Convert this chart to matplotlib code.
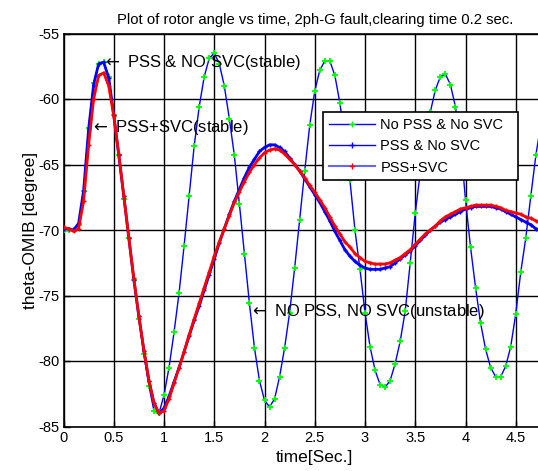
import numpy as np
import matplotlib
matplotlib.use("Agg")
import matplotlib.pyplot as plt
from matplotlib.lines import Line2D

plt.rcParams['font.family'] = ['Liberation Sans', 'DejaVu Sans']
plt.rcParams['axes.unicode_minus'] = False

# time axis (s)
time = [round(0.05 * i, 2) for i in range(96)]

# No PSS & No SVC (unstable)
no_pss_no_svc = [
    -70.0, -70.0, -70.0, -69.6, -67.0, -62.2, -58.8, -57.3, -57.2, -58.3,
    -61.2, -64.3, -67.6, -70.6, -73.8, -76.8, -79.5, -81.9, -83.8, -84.0,
    -82.6, -80.5, -77.8, -74.8, -71.2, -67.4, -63.6, -60.6, -58.3, -56.9,
    -56.5, -57.3, -59.0, -61.5, -64.3, -68.0, -71.8, -75.6, -79.0, -81.5,
    -83.0, -83.5, -82.9, -81.2, -79.0, -76.3, -72.9, -69.2, -65.5, -62.0,
    -59.4, -57.8, -57.1, -57.1, -58.2, -60.3, -63.1, -66.2, -70.0, -73.0,
    -76.3, -78.9, -80.7, -81.8, -82.0, -81.5, -80.2, -78.5, -76.2, -72.5,
    -68.7, -65.6, -63.3, -61.0, -59.3, -58.3, -58.1, -58.9, -60.6, -63.3,
    -67.7, -71.3, -74.4, -77.1, -79.1, -80.5, -81.2, -81.2, -80.4, -78.9,
    -76.4, -73.2, -70.6, -67.4, -64.3, -61.9,
]

# PSS & No SVC
pss_no_svc = [
    -69.9, -69.9, -70.0, -69.5, -67.0, -62.3, -58.9, -57.3, -57.2, -58.4,
    -61.2, -64.3, -67.4, -70.6, -73.8, -76.6, -79.2, -81.5, -83.2, -84.0,
    -83.6, -82.7, -81.6, -80.5, -79.3, -78.1, -76.9, -75.8, -74.6, -73.4,
    -72.2, -71.0, -69.9, -68.8, -67.8, -66.9, -66.0, -65.2, -64.6, -64.0,
    -63.7, -63.5, -63.5, -63.7, -64.0, -64.5, -65.0, -65.5, -66.1, -66.7,
    -67.3, -67.9, -68.6, -69.3, -70.1, -70.8, -71.5, -72.0, -72.4, -72.7,
    -72.9, -73.0, -73.0, -73.0, -72.9, -72.8, -72.5, -72.2, -71.9, -71.6,
    -71.2, -70.8, -70.4, -70.0, -69.7, -69.4, -69.2, -69.0, -68.8, -68.6,
    -68.4, -68.3, -68.2, -68.2, -68.2, -68.2, -68.3, -68.4, -68.6, -68.8,
    -69.0, -69.2, -69.4, -69.6, -69.9, -70.1,
]

# PSS + SVC
pss_svc = [
    -69.8, -69.9, -70.1, -69.9, -67.8, -63.5, -60.0, -58.2, -58.0, -59.0,
    -61.3, -64.2, -67.4, -70.6, -73.7, -76.6, -79.2, -81.5, -83.2, -84.0,
    -83.8, -82.9, -81.7, -80.5, -79.3, -78.0, -76.8, -75.6, -74.4, -73.2,
    -72.0, -70.9, -69.9, -68.9, -67.9, -67.1, -66.3, -65.6, -65.0, -64.5,
    -64.1, -63.9, -63.8, -63.9, -64.2, -64.6, -65.0, -65.5, -66.0, -66.6,
    -67.1, -67.7, -68.3, -69.0, -69.7, -70.3, -70.9, -71.3, -71.8, -72.1,
    -72.4, -72.5, -72.6, -72.6, -72.6, -72.5, -72.3, -72.1, -71.8, -71.5,
    -71.1, -70.7, -70.3, -70.0, -69.7, -69.3, -69.0, -68.8, -68.6, -68.4,
    -68.3, -68.2, -68.1, -68.1, -68.1, -68.1, -68.2, -68.3, -68.5, -68.6,
    -68.7, -68.8, -69.0, -69.1, -69.3, -69.5,
]

legend_labels = ["No PSS & No SVC", "PSS & No SVC", "PSS+SVC"]
x_ticks = [0, 0.5, 1, 1.5, 2, 2.5, 3, 3.5, 4, 4.5, 5]
x_ticklabels = ["0", "0.5", "1", "1.5", "2", "2.5", "3", "3.5", "4", "4.5", ""]
y_ticks = [-85, -80, -75, -70, -65, -60, -55]
y_ticklabels = ["-85", "-80", "-75", "-70", "-65", "-60", "-55"]

fig = plt.figure(figsize=(5.38, 4.71), dpi=100)
ax = fig.add_axes([63.5 / 538, 44.5 / 471, 502.5 / 538, 393 / 471])

ax.plot(time, no_pss_no_svc, color='#0000ff', lw=1.0, marker='+',
        ms=4.5, mec='#00ff00', mew=1.3, zorder=3)
ax.plot(time, pss_no_svc, color='#0000ff', lw=2.0, marker='+',
        ms=3, mec='#0000ff', mew=1.0, zorder=4)
ax.plot(time, pss_svc, color='#ff0000', lw=2.0, marker='+',
        ms=3.5, mec='#ff0000', mew=1.0, zorder=5)

ax.set_xlim(0, 5)
ax.set_ylim(-85, -55)
ax.set_xticks(x_ticks)
ax.set_xticklabels(x_ticklabels)
ax.set_yticks(y_ticks)
ax.set_yticklabels(y_ticklabels)
ax.tick_params(direction='in', labelsize=10.5, length=4, width=1, pad=3)
ax.grid(True, color='black', linestyle='-', linewidth=1.0)
ax.set_axisbelow(True)
for s in ax.spines.values():
    s.set_linewidth(1.2)
    s.set_color('black')

ax.set_title("Plot of rotor angle vs time, 2ph-G fault,clearing time 0.2 sec.",
             fontsize=10.7, pad=7)
ax.set_xlabel("time[Sec.]", fontsize=12.5, labelpad=4)
ax.set_ylabel("theta-OMIB [degree]", fontsize=12.5, labelpad=0)

ann_fs = 12
arrow = r"$\leftarrow$ "
ax.text(0.383, -57.25, arrow + "PSS & NO SVC(stable)", ha='left', va='center',
        fontsize=ann_fs, zorder=6)
ax.text(0.264, -62.2, arrow + "PSS+SVC(stable)", ha='left', va='center',
        fontsize=ann_fs, zorder=6)
ax.text(1.846, -76.2, arrow + "NO PSS, NO SVC(unstable)", ha='left', va='center',
        fontsize=ann_fs, zorder=6)

handles = [
    Line2D([], [], color='#0000ff', lw=1.0, marker='+', ms=4, mec='#00ff00'),
    Line2D([], [], color='#0000ff', lw=1.0, marker='+', ms=4, mec='#0000ff'),
    Line2D([], [], color='#6666ff', lw=1.5, marker='+', ms=4, mec='#ff0000'),
]
leg = ax.legend(handles, legend_labels, loc='upper left',
                bbox_to_anchor=(0.516, 0.627, 0.389, 0.173), mode='expand',
                borderaxespad=0, fontsize=10.5, handlelength=3.2,
                handletextpad=0.35, labelspacing=0.5, borderpad=0.4,
                fancybox=False, framealpha=1)
leg.get_frame().set_edgecolor('black')
leg.get_frame().set_linewidth(1.2)
leg.set_zorder(10)

fig.savefig("out.png", dpi=100)
